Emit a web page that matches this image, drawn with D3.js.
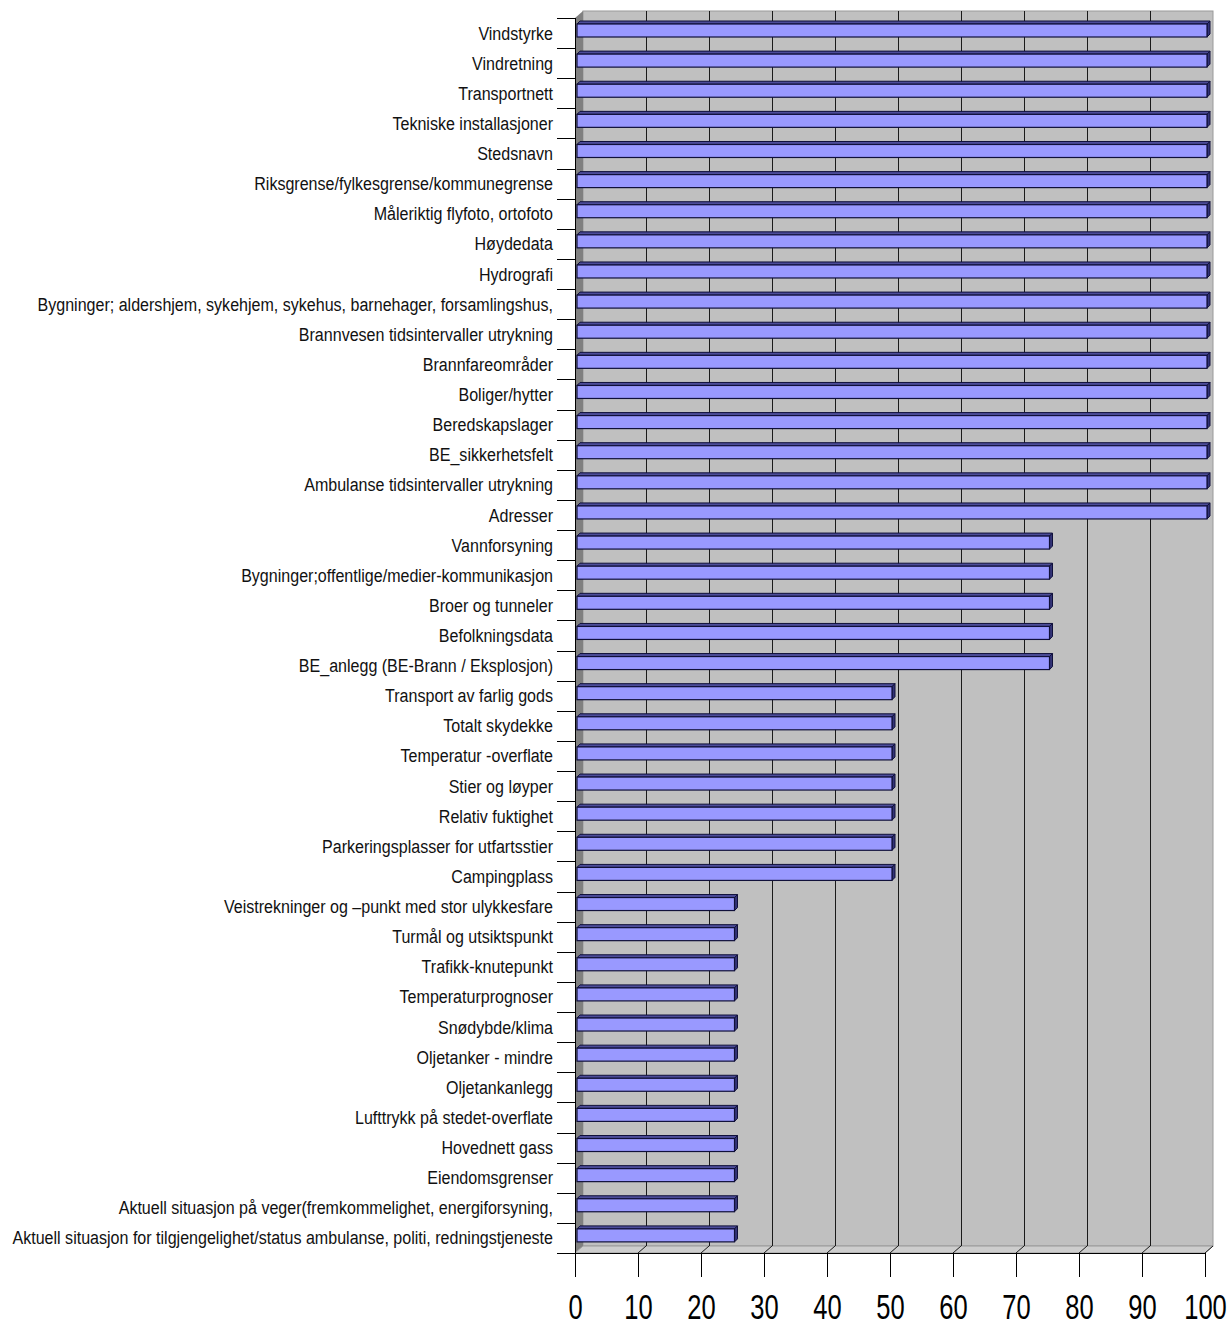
<!DOCTYPE html>
<html>
<head>
<meta charset="utf-8">
<script src="https://cdn.jsdelivr.net/npm/d3@7/dist/d3.min.js"></script>
<style>
  html, body { margin: 0; padding: 0; background: #fff; }
  svg { display: block; font-family: "Liberation Sans", Arial, sans-serif; }
</style>
</head>
<body>
<svg id="chart" width="1229" height="1329"></svg>
<script>
// Datasett: kategorier (ovenfra og ned) og verdier
const categories = [
  "Vindstyrke",
  "Vindretning",
  "Transportnett",
  "Tekniske installasjoner",
  "Stedsnavn",
  "Riksgrense/fylkesgrense/kommunegrense",
  "Måleriktig flyfoto, ortofoto",
  "Høydedata",
  "Hydrografi",
  "Bygninger; aldershjem, sykehjem, sykehus, barnehager, forsamlingshus,",
  "Brannvesen tidsintervaller utrykning",
  "Brannfareområder",
  "Boliger/hytter",
  "Beredskapslager",
  "BE_sikkerhetsfelt",
  "Ambulanse tidsintervaller utrykning",
  "Adresser",
  "Vannforsyning",
  "Bygninger;offentlige/medier-kommunikasjon",
  "Broer og tunneler",
  "Befolkningsdata",
  "BE_anlegg (BE-Brann / Eksplosjon)",
  "Transport av farlig gods",
  "Totalt skydekke",
  "Temperatur -overflate",
  "Stier og løyper",
  "Relativ fuktighet",
  "Parkeringsplasser for utfartsstier",
  "Campingplass",
  "Veistrekninger og –punkt med stor ulykkesfare",
  "Turmål og utsiktspunkt",
  "Trafikk-knutepunkt",
  "Temperaturprognoser",
  "Snødybde/klima",
  "Oljetanker - mindre",
  "Oljetankanlegg",
  "Lufttrykk på stedet-overflate",
  "Hovednett gass",
  "Eiendomsgrenser",
  "Aktuell situasjon på veger(fremkommelighet, energiforsyning,",
  "Aktuell situasjon for tilgjengelighet/status ambulanse, politi, redningstjeneste"
];

const values = [
  100, 100, 100, 100, 100, 100, 100, 100, 100, 100, 100, 100, 100, 100, 100, 100, 100,
  75, 75, 75, 75, 75,
  50, 50, 50, 50, 50, 50, 50,
  25, 25, 25, 25, 25, 25, 25, 25, 25, 25, 25, 25
];

const xTicks = [0, 10, 20, 30, 40, 50, 60, 70, 80, 90, 100];

const data = categories.map((c, i) => ({ name: c, value: values[i] }));

const svg = d3.select("#chart");

// Plot geometry (front plane) and 3-D depth offset
const X0 = 575, X1 = 1205, Y0 = 18, Y1 = 1253;
const DX = 8, DY = -7;
const BD = 3; // bar depth

const x = d3.scaleLinear().domain([0, 100]).range([X0, X1]);
const y = d3.scaleBand().domain(categories).range([Y0, Y1]).padding(0);

const pts = a => a.map(p => p.join(",")).join(" ");

// Back wall
svg.append("rect")
  .attr("x", x(0) + DX).attr("y", Y0 + DY)
  .attr("width", x(100) - x(0)).attr("height", Y1 - Y0)
  .attr("fill", "#c0c0c0").attr("stroke", "#9a9a9a").attr("stroke-width", 1);

// Left wall
svg.append("polygon")
  .attr("points", pts([[X0, Y0], [X0 + DX, Y0 + DY], [X0 + DX, Y1 + DY], [X0, Y1]]))
  .attr("fill", "#808080");

// Floor
svg.append("polygon")
  .attr("points", pts([[X0, Y1], [X0 + DX, Y1 + DY], [X1 + DX, Y1 + DY], [X1, Y1]]))
  .attr("fill", "#cdcdcd").attr("stroke", "#9a9a9a").attr("stroke-width", 1);

// Gridlines on back wall and floor
const grid = svg.append("g").attr("stroke", "#1a1a1a").attr("stroke-width", 1);
xTicks.filter(v => v > 0 && v < 100).forEach(v => {
  const gx = Math.round(x(v) + DX) + 0.5;
  grid.append("line").attr("x1", gx).attr("x2", gx)
    .attr("y1", Y0 + DY).attr("y2", Y1 + DY);
});
xTicks.filter(v => v > 0).forEach(v => {
  grid.append("line")
    .attr("x1", x(v) + DX).attr("y1", Y1 + DY)
    .attr("x2", x(v)).attr("y2", Y1);
});

// Bars with a shallow 3-D top and side face
const bars = svg.append("g").selectAll("g.bar").data(data).join("g").attr("class", "bar");
bars.each(function (d) {
  const g = d3.select(this);
  const bx0 = x(0) + 2, bx1 = x(d.value) + 2;
  const yt = y(d.name) + 6, yb = y(d.name) + 19;
  // top face
  g.append("polygon")
    .attr("points", pts([[bx0, yt], [bx0 + BD, yt - BD], [bx1 + BD, yt - BD], [bx1, yt]]))
    .attr("fill", "#4c4c99").attr("stroke", "#10103a").attr("stroke-width", 1);
  // side face
  g.append("polygon")
    .attr("points", pts([[bx1, yt], [bx1 + BD, yt - BD], [bx1 + BD, yb - BD], [bx1, yb]]))
    .attr("fill", "#333377").attr("stroke", "#10103a").attr("stroke-width", 1);
  // front face
  g.append("rect")
    .attr("x", bx0).attr("y", yt)
    .attr("width", bx1 - bx0).attr("height", yb - yt)
    .attr("fill", "#9999ff").attr("stroke", "#10103a").attr("stroke-width", 1.2);
});

// Category axis: line, boundary ticks and labels
svg.append("line")
  .attr("x1", X0 + 0.5).attr("x2", X0 + 0.5).attr("y1", Y0).attr("y2", Y1)
  .attr("stroke", "#000").attr("stroke-width", 1);

const bounds = categories.map(c => y(c)).concat([Y1]);
svg.append("g").selectAll("line").data(bounds).join("line")
  .attr("x1", 557).attr("x2", X0)
  .attr("y1", d => Math.round(d) + 0.5).attr("y2", d => Math.round(d) + 0.5)
  .attr("stroke", "#000").attr("stroke-width", 1);

svg.append("g").selectAll("text").data(categories).join("text")
  .attr("transform", d => `translate(553,${y(d) + y.bandwidth() / 2 + 6.5}) scale(0.845,1)`)
  .attr("text-anchor", "end")
  .attr("font-size", 19)
  .attr("fill", "#111")
  .text(d => d);

// Value axis
const xAxis = svg.append("g")
  .attr("transform", `translate(0,${Y1})`)
  .call(d3.axisBottom(x).tickValues(xTicks).tickSize(24).tickSizeOuter(0).tickPadding(0));
xAxis.select(".domain").attr("stroke", "#000").attr("d", `M${X0},0.5H${X1}`);
xAxis.selectAll(".tick line").attr("stroke", "#000");
xAxis.selectAll(".tick text")
  .attr("y", 66).attr("dy", 0)
  .attr("font-size", 36)
  .attr("font-family", "\"Liberation Sans\", Arial, sans-serif")
  .attr("fill", "#000")
  .attr("transform", "scale(0.71,1)");
</script>
</body>
</html>
